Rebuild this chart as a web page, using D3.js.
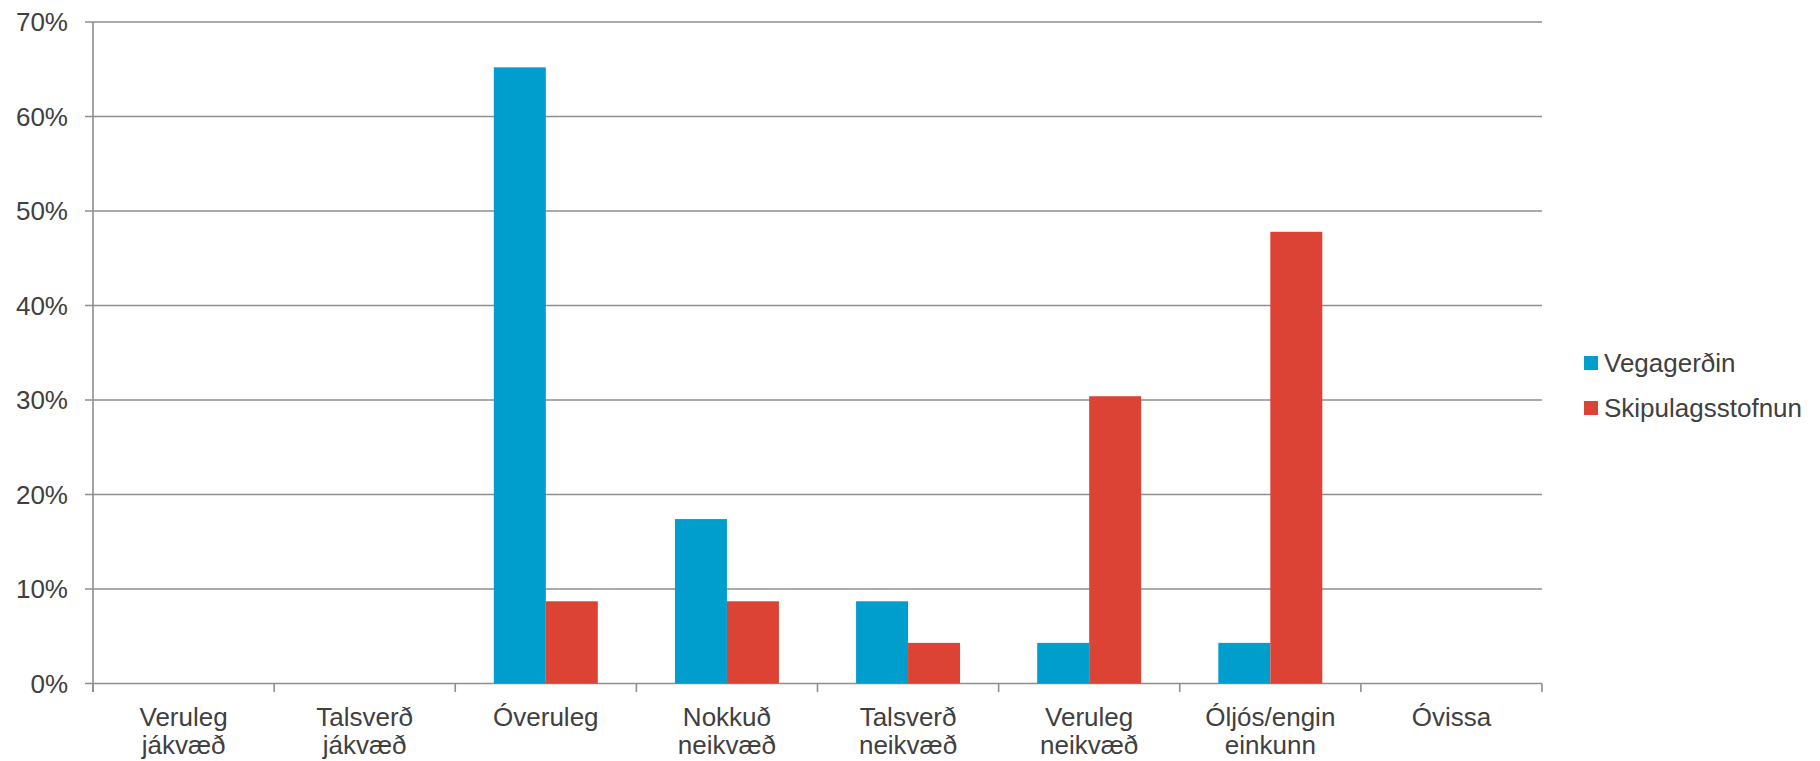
<!DOCTYPE html>
<html>
<head>
<meta charset="utf-8">
<script src="https://cdn.jsdelivr.net/npm/d3@7"></script>
<style>
html,body{margin:0;padding:0;background:#fff;}
svg{display:block;font-family:"Liberation Sans",Arial,sans-serif;}
</style>
</head>
<body>
<svg id="chart" width="1820" height="761"></svg>
<script>
const categories = [
  ["Veruleg","jákvæð"],
  ["Talsverð","jákvæð"],
  ["Óveruleg"],
  ["Nokkuð","neikvæð"],
  ["Talsverð","neikvæð"],
  ["Veruleg","neikvæð"],
  ["Óljós/engin","einkunn"],
  ["Óvissa"]
];
const seriesNames = ["Vegagerðin","Skipulagsstofnun"];
const vegagerdin = [0, 0, 0.652, 0.174, 0.087, 0.043, 0.043, 0];
const skipulagsstofnun = [0, 0, 0.087, 0.087, 0.043, 0.304, 0.478, 0];
const yTicks = [0,0.1,0.2,0.3,0.4,0.5,0.6,0.7];
const colors = ["#009ECC","#DD4334"];

const svg = d3.select("#chart");
const L = 93, R = 1542, T = 22, B = 683.5;
const gridColor = "#8e8e8e";
const textColor = "#404040";
const fs = 26;

const catIdx = categories.map((d,i)=>i);
const x = d3.scaleBand().domain(catIdx).range([L,R]).paddingInner(0.426).paddingOuter(0.213);
const xs = d3.scaleBand().domain([0,1]).range([0,x.bandwidth()]);
const y = d3.scaleLinear().domain([0,0.7]).range([B,T]);

// gridlines
svg.append("g").selectAll("line").data(yTicks).join("line")
  .attr("x1",L-8).attr("x2",R).attr("y1",d=>y(d)).attr("y2",d=>y(d))
  .attr("stroke",gridColor).attr("stroke-width",1.6);

// y labels
svg.append("g").selectAll("text").data(yTicks).join("text")
  .attr("x",68).attr("y",d=>y(d)).attr("dy","0.36em")
  .attr("text-anchor","end").attr("font-size",fs).attr("fill",textColor)
  .text(d=>d3.format(".0%")(d));

// bars
const data = [vegagerdin, skipulagsstofnun];
data.forEach((vals,s)=>{
  svg.append("g").selectAll("rect").data(vals).join("rect")
    .attr("x",(d,i)=>x(i)+xs(s)).attr("width",xs.bandwidth())
    .attr("y",d=>y(d)).attr("height",d=>B-y(d))
    .attr("fill",colors[s]);
});

// axes lines
svg.append("line").attr("x1",L).attr("x2",L).attr("y1",T).attr("y2",B+8.5)
  .attr("stroke",gridColor).attr("stroke-width",1.6);
const bounds = d3.range(categories.length+1).map(i=>L+i*(R-L)/categories.length);
svg.append("g").selectAll("line").data(bounds).join("line")
  .attr("x1",d=>d).attr("x2",d=>d).attr("y1",B).attr("y2",B+8.5)
  .attr("stroke",gridColor).attr("stroke-width",1.6);

// x labels
const xl = svg.append("g").selectAll("text").data(categories).join("text")
  .attr("x",(d,i)=>x(i)+x.bandwidth()/2).attr("y",726)
  .attr("text-anchor","middle").attr("font-size",fs).attr("fill",textColor);
xl.each(function(lines){
  const t = d3.select(this);
  const cx = t.attr("x");
  lines.forEach((ln,j)=>{
    t.append("tspan").attr("x",cx).attr("dy",j===0?0:27.5).text(ln);
  });
});

// legend
const lg = svg.append("g").selectAll("g").data(seriesNames).join("g")
  .attr("transform",(d,i)=>`translate(1584,${363+i*45})`);
lg.append("rect").attr("x",0).attr("y",-7).attr("width",14).attr("height",14)
  .attr("fill",(d,i)=>colors[i]);
lg.append("text").attr("x",20).attr("y",0).attr("dy","0.36em")
  .attr("font-size",fs).attr("fill",textColor).text(d=>d);
</script>
</body>
</html>
